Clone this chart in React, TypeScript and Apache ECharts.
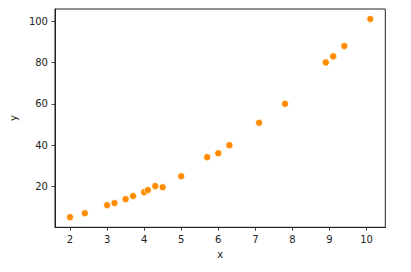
import React, { useEffect, useRef } from "react";
import * as echarts from "echarts";

const xValues = [2.0, 2.4, 3.0, 3.2, 3.5, 3.7, 4.0, 4.1, 4.3, 4.5, 5.0, 5.7, 6.0, 6.3, 7.1, 7.8, 8.9, 9.1, 9.4, 10.1];
const yValues = [5.2, 7.1, 11.0, 12.0, 13.9, 15.4, 17.3, 18.3, 20.2, 19.7, 25.0, 34.2, 36.1, 40.0, 50.8, 60.0, 80.0, 82.9, 87.9, 101.0];
const xTicks = [2, 3, 4, 5, 6, 7, 8, 9, 10];
const yTicks = [20, 40, 60, 80, 100];

export default function App() {
  const ref = useRef<HTMLDivElement>(null);
  useEffect(() => {
    if (!ref.current) return;
    const chart = echarts.init(ref.current, undefined, { renderer: "svg" });
    const font = "DejaVu Sans";
    const axisCommon = {
      axisLine: { show: true, lineStyle: { color: "#222", width: 1 } },
      axisTick: { show: true, length: 3.5, lineStyle: { color: "#222", width: 0.8 } },
      splitLine: { show: false },
      nameTextStyle: { fontFamily: font, fontSize: 10, color: "#222" },
    };
    chart.setOption({
      animation: false,
      backgroundColor: "#fff",
      grid: {
        left: 50,
        right: 25.7,
        top: 9,
        bottom: 44.7,
        show: true,
        borderColor: "#222",
        borderWidth: 1,
        containLabel: false,
      },
      xAxis: {
        type: "value",
        min: 1.595,
        max: 10.505,
        name: "x",
        nameLocation: "middle",
        nameGap: 22,
        ...axisCommon,
        axisTick: { ...axisCommon.axisTick, customValues: xTicks },
        axisLabel: {
          customValues: xTicks,
          margin: 7,
          fontFamily: font,
          fontSize: 10,
          color: "#222",
        },
      },
      yAxis: {
        type: "value",
        min: 0.3,
        max: 105.8,
        name: "y",
        nameLocation: "middle",
        nameGap: 34,
        nameRotate: 90,
        ...axisCommon,
        axisTick: { ...axisCommon.axisTick, customValues: yTicks },
        axisLabel: {
          customValues: yTicks,
          margin: 7,
          fontFamily: font,
          fontSize: 10,
          color: "#222",
        },
      },
      series: [
        {
          type: "scatter",
          data: xValues.map((x, i) => [x, yValues[i]]),
          symbolSize: 7,
          itemStyle: { color: "#ff8c00", opacity: 1, borderColor: "#fff", borderWidth: 0.6 },
        },
      ],
    });
    return () => chart.dispose();
  }, []);
  return (
    <div
      ref={ref}
      style={{ position: "absolute", left: 0, top: 0, width: 411, height: 272 }}
    />
  );
}
